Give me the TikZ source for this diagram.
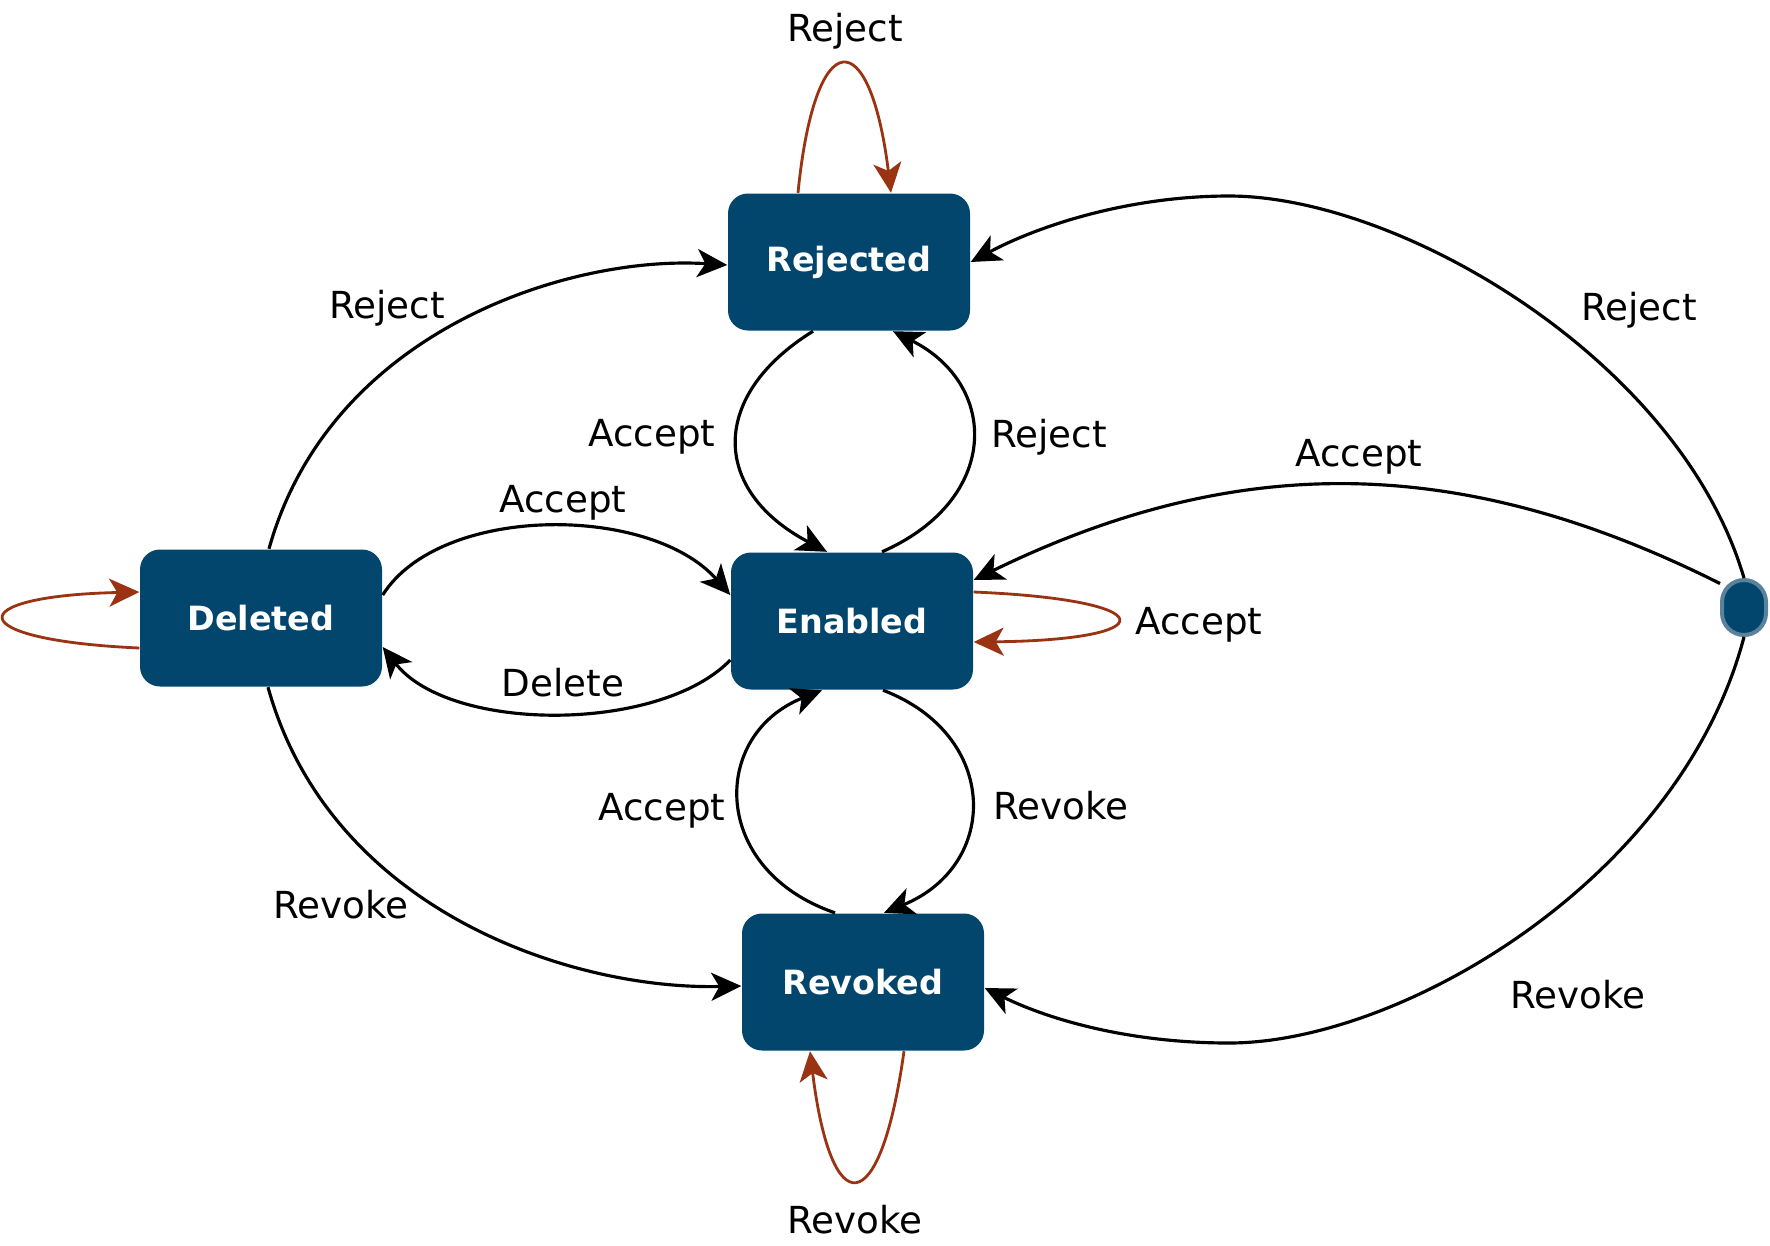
\documentclass[tikz,border=0pt]{standalone}
\usepackage{fontspec}
\setmainfont{DejaVu Sans}
\usetikzlibrary{arrows.meta}
\definecolor{statefill}{HTML}{02466D}
\definecolor{initedge}{HTML}{5B829C}
\definecolor{loopcol}{HTML}{993312}

\begin{document}
\begin{tikzpicture}[x=0.1mm, y=-0.1mm, >={Stealth[length=3mm, width=2.8mm, inset=0.8mm]},
        statebox/.style={rectangle, rounded corners=2mm, fill=statefill, text=white,
            font=\fontsize{9.5}{11}\selectfont\bfseries, minimum width=24.2mm, minimum height=13.7mm, inner sep=0pt},
        initbox/.style={rectangle, rounded corners=2.2mm, fill=statefill, draw=initedge, line width=0.4mm,
            minimum width=4.4mm, minimum height=5.5mm, inner sep=0pt},
        lbl/.style={font=\fontsize{10.6}{12}\selectfont, inner sep=0pt},
        trans/.style={->, line width=0.9pt},
        selfloop/.style={->, line width=0.8pt, loopcol}]
        \useasboundingbox (0,0) rectangle (1770,1245);

        \node [statebox] (rejected) at (849,262) {Rejected};
        \node [statebox] (enabled) at (852,621) {Enabled};
        \node [statebox] (deleted) at (261,618) {Deleted};
        \node [statebox] (revoked) at (863,982) {Revoked};
        \node [initbox] (init) at (1744,607.5) {};

        % self loops
        \draw [selfloop] ([xshift=-5.1mm]rejected.north) .. controls (815,22) and (870,22) .. ([xshift=4.2mm]rejected.north);
        \draw [selfloop] ([yshift=2.9mm]enabled.east) .. controls (1165,600) and (1165,640) .. ([yshift=-2.1mm]enabled.east);
        \draw [selfloop] ([yshift=-3mm]deleted.west) .. controls (-40,640) and (-40,596) .. ([yshift=2.6mm]deleted.west);
        \draw [selfloop] ([xshift=4.1mm]revoked.south) .. controls (880,1223) and (831,1223) .. ([xshift=-5.3mm]revoked.south);

        % between the states
        \draw [trans] ([xshift=-3.6mm]rejected.south) .. controls (710,395) and (710,490) .. ([xshift=-2.5mm]enabled.north);
        \draw [trans] ([xshift=3mm]enabled.north) .. controls (1000,500) and (1000,385) .. ([xshift=4.4mm]rejected.south);
        \draw [trans] ([xshift=-2.8mm]revoked.north) .. controls (710,870) and (710,735) .. ([xshift=-3mm]enabled.south);
        \draw [trans] ([xshift=3.1mm]enabled.south) .. controls (1000,735) and (1000,865) .. ([xshift=2.1mm]revoked.north);
        \draw [trans] ([yshift=2.3mm]deleted.east) .. controls (440,504) and (650,504) .. ([yshift=2.6mm]enabled.west);
        \draw [trans] ([yshift=-3.9mm]enabled.west) .. controls (660,733) and (450,733) .. ([yshift=-2.9mm]deleted.east);
        \draw [trans] ([xshift=0.8mm]deleted.north) .. controls (330,330) and (570,255) .. ([yshift=-0.3mm]rejected.west);
        \draw [trans] ([xshift=0.7mm]deleted.south) .. controls (330,910) and (570,990) .. ([yshift=-0.4mm]revoked.west);

        % from the start point
        \draw [trans] (init.north) .. controls (1680,360) and (1400,196) .. (1229,196)
            .. controls (1130,196) and (1040,225) .. (rejected.east);
        \draw [trans] (init.135) .. controls (1462,454) and (1238,451) .. ([yshift=4.1mm]enabled.east);
        \draw [trans] (init.south) .. controls (1680,880) and (1400,1043) .. (1229,1043)
            .. controls (1130,1043) and (1050,1020) .. ([yshift=-0.6mm]revoked.east);

        \node [lbl] (lRejLoop) at (845,31) {Reject};
        \node [lbl] (lRejDel) at (387,308) {Reject};
        \node [lbl] (lAccRej) at (652,437) {Accept};
        \node [lbl] (lRejEna) at (1049,437) {Reject};
        \node [lbl] (lAccDel) at (563,503) {Accept};
        \node [lbl] (lDelete) at (563,683) {Delete};
        \node [lbl] (lAccLoop) at (1199,625) {Accept};
        \node [lbl] (lRejInit) at (1639,310) {Reject};
        \node [lbl] (lAccInit) at (1359,457) {Accept};
        \node [lbl] (lAccRev) at (662,811) {Accept};
        \node [lbl] (lRevEna) at (1061,806) {Revoke};
        \node [lbl] (lRevDel) at (341,905) {Revoke};
        \node [lbl] (lRevInit) at (1578,995) {Revoke};
        \node [lbl] (lRevLoop) at (855,1220) {Revoke};
    \end{tikzpicture}
\end{document}
